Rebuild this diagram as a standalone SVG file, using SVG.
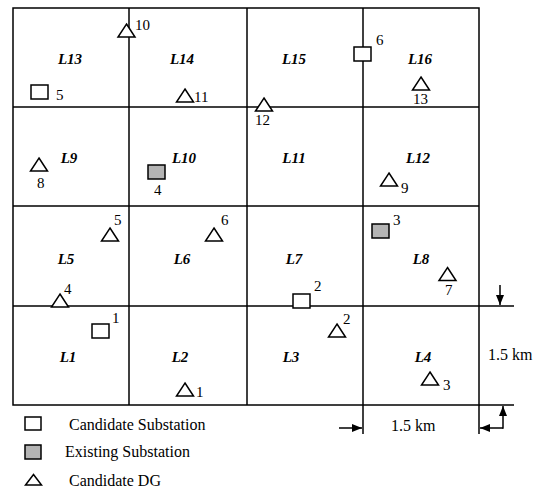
<svg xmlns="http://www.w3.org/2000/svg" xmlns:xlink="http://www.w3.org/1999/xlink" width="539" height="492" viewBox="0 0 539 492">
<style>
.g{stroke:#000;stroke-width:1.5;fill:none}
.lb{font-family:"Liberation Serif","Times New Roman",serif;font-size:15px;font-weight:bold;font-style:italic;text-anchor:middle;fill:#000}
.n{font-family:"Liberation Serif","Times New Roman",serif;font-size:15px;fill:#000}
.lg{font-family:"Liberation Serif","Times New Roman",serif;font-size:16px;fill:#000}
.cs{fill:#fff;stroke:#000;stroke-width:1.5}
.es{fill:#b4b4b4;stroke:#000;stroke-width:1.5}
.dg{fill:#fff;stroke:#000;stroke-width:1.5}
</style>
<defs>
<path id="tri" d="M0,-6.5 L8.5,6.5 L-8.5,6.5 Z"/>
<marker id="ah" viewBox="0 0 10 10" refX="10" refY="5" markerWidth="10" markerHeight="10" markerUnits="userSpaceOnUse" orient="auto">
<path d="M0,1 L10,5 L0,9 Z" fill="#000"/>
</marker>
</defs>
<rect width="539" height="492" fill="#fff"/>
<g id="grid" class="g">
<rect x="13" y="8" width="466" height="397"/>
<line x1="129" y1="8" x2="129" y2="405"/>
<line x1="247" y1="8" x2="247" y2="405"/>
<line x1="363" y1="8" x2="363" y2="434"/>
<line x1="479" y1="405" x2="479" y2="434"/>
<line x1="13" y1="107" x2="479" y2="107"/>
<line x1="13" y1="206" x2="479" y2="206"/>
<line x1="13" y1="306" x2="514" y2="306"/>
<line x1="479" y1="405" x2="514" y2="405"/>
</g>
<g id="cells">
<text class="lb" x="70" y="64">L13</text>
<text class="lb" x="182" y="64">L14</text>
<text class="lb" x="294" y="64">L15</text>
<text class="lb" x="420" y="64">L16</text>
<text class="lb" x="69" y="163">L9</text>
<text class="lb" x="184" y="163">L10</text>
<text class="lb" x="294" y="163">L11</text>
<text class="lb" x="418" y="163">L12</text>
<text class="lb" x="66" y="264">L5</text>
<text class="lb" x="182" y="264">L6</text>
<text class="lb" x="294" y="264">L7</text>
<text class="lb" x="421" y="264">L8</text>
<text class="lb" x="68" y="362">L1</text>
<text class="lb" x="180" y="362">L2</text>
<text class="lb" x="291" y="362">L3</text>
<text class="lb" x="423" y="362">L4</text>
</g>
<g id="candidate-substations">
<g id="cs1"><rect class="cs" x="92" y="324" width="17" height="14"/><text class="n" x="112" y="323">1</text></g>
<g id="cs2"><rect class="cs" x="293" y="294" width="17" height="14"/><text class="n" x="314" y="291">2</text></g>
<g id="cs5"><rect class="cs" x="31" y="85" width="17" height="14"/><text class="n" x="56" y="100">5</text></g>
<g id="cs6"><rect class="cs" x="354" y="47" width="17" height="14"/><text class="n" x="376" y="45">6</text></g>
</g>
<g id="existing-substations">
<g id="es3"><rect class="es" x="372" y="224" width="17" height="14"/><text class="n" x="393" y="225">3</text></g>
<g id="es4"><rect class="es" x="148" y="165" width="17" height="14"/><text class="n" x="154" y="195">4</text></g>
</g>
<g id="candidate-dgs">
<g id="dg1"><use xlink:href="#tri" class="dg" x="185" y="389.5"/><text class="n" x="196" y="397">1</text></g>
<g id="dg2"><use xlink:href="#tri" class="dg" x="337" y="330.5"/><text class="n" x="343" y="324">2</text></g>
<g id="dg3"><use xlink:href="#tri" class="dg" x="430" y="378.5"/><text class="n" x="443" y="390">3</text></g>
<g id="dg4"><use xlink:href="#tri" class="dg" x="60" y="300.5"/><text class="n" x="64" y="294">4</text></g>
<g id="dg5"><use xlink:href="#tri" class="dg" x="110" y="234.5"/><text class="n" x="114" y="225">5</text></g>
<g id="dg6"><use xlink:href="#tri" class="dg" x="214" y="234.5"/><text class="n" x="221" y="225">6</text></g>
<g id="dg7"><use xlink:href="#tri" class="dg" x="447.5" y="274"/><text class="n" x="445" y="295">7</text></g>
<g id="dg8"><use xlink:href="#tri" class="dg" x="39" y="164.5"/><text class="n" x="37" y="188">8</text></g>
<g id="dg9"><use xlink:href="#tri" class="dg" x="389" y="179.5"/><text class="n" x="401" y="193">9</text></g>
<g id="dg10"><use xlink:href="#tri" class="dg" x="126.5" y="30.5"/><text class="n" x="135" y="30">10</text></g>
<g id="dg11"><use xlink:href="#tri" class="dg" x="185" y="95.5"/><text class="n" x="194" y="102">11</text></g>
<g id="dg12"><use xlink:href="#tri" class="dg" x="264" y="104.5"/><text class="n" x="255" y="125">12</text></g>
<g id="dg13"><use xlink:href="#tri" class="dg" x="421" y="83.5"/><text class="n" x="413" y="104">13</text></g>
</g>
<g id="connectors" class="g">
<line x1="500" y1="285" x2="500" y2="305" marker-end="url(#ah)"/>
<line x1="339" y1="428" x2="362" y2="428" marker-end="url(#ah)"/>
<line x1="503" y1="428" x2="480" y2="428" marker-end="url(#ah)"/>
<line x1="503" y1="428.75" x2="503" y2="406" marker-end="url(#ah)"/>
</g>
<g id="dimensions">
<text class="lg" x="488" y="360">1.5 km</text>
<text class="lg" x="391" y="431">1.5 km</text>
</g>
<g id="legend">
<g id="legend-cs"><rect class="cs" x="25" y="417" width="16" height="13"/><text class="lg" x="69" y="430">Candidate Substation</text></g>
<g id="legend-es"><rect class="es" x="25" y="445" width="16" height="14"/><text class="lg" x="65" y="457">Existing Substation</text></g>
<g id="legend-dg"><path class="dg" d="M33.5,474.5 L41.5,485 L25.5,485 Z"/><text class="lg" x="69" y="486">Candidate DG</text></g>
</g>
</svg>
